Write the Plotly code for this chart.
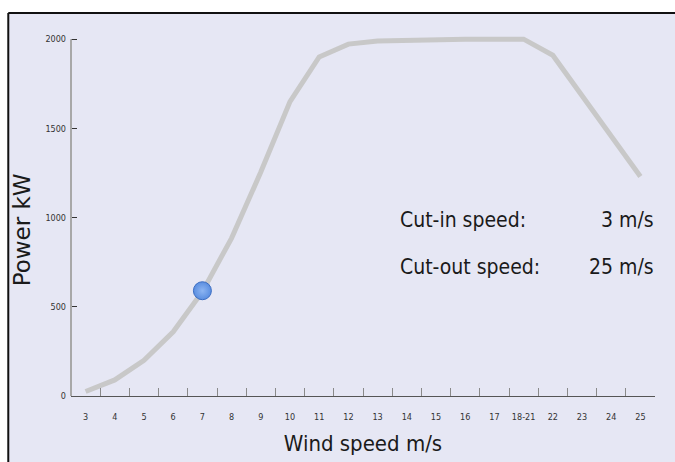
import plotly.graph_objs as go

# wind speed categories (m/s) and turbine output (kW)
speed_labels = ['3', '4', '5', '6', '7', '8', '9', '10', '11', '12', '13', '14',
                '15', '16', '17', '18-21', '22', '23', '24', '25']
power_kw = [25, 90, 200, 360, 585, 885, 1255, 1650, 1900, 1972, 1990, 1995,
            1998, 2000, 2000, 2000, 1910, 1685, 1455, 1230]

# current operating point
current_speed = ['7']
current_power = [590]

y_ticks = [0, 500, 1000, 1500, 2000]

info_labels = ['Cut-in speed:', 'Cut-out speed:']
info_values = ['3 m/s', '25 m/s']

NARROW = 'DejaVu Sans Condensed, Liberation Sans Narrow, sans-serif'

curve = go.Scatter(
    x=speed_labels, y=power_kw, mode='lines',
    line=dict(color='#C8C8C8', width=5),
    hoverinfo='skip',
)
point = go.Scatter(
    x=current_speed, y=current_power, mode='markers',
    marker=dict(size=18, color='#5A8EE0',
                gradient=dict(type='radial', color='#8DB5F2'),
                line=dict(color='#3B6DC2', width=1)),
    cliponaxis=False,
)

annotations = [
    dict(text='Power kW', x=-0.0834, y=0.456, xref='paper', yref='paper',
         textangle=-90, showarrow=False, xanchor='center', yanchor='middle',
         font=dict(family='DejaVu Sans', size=23, color='#1a1a1a')),
]
rows_y = [0.4835, 0.3544]
for lab, val, yy in zip(info_labels, info_values, rows_y):
    annotations.append(dict(text=lab, x=0.5604, y=yy, xref='paper', yref='paper',
                            xanchor='left', yanchor='middle', showarrow=False,
                            font=dict(family=NARROW, size=21, color='#1a1a1a')))
    annotations.append(dict(text=val, x=1.0023, y=yy, xref='paper', yref='paper',
                            xanchor='right', yanchor='middle', showarrow=False,
                            font=dict(family=NARROW, size=21, color='#1a1a1a')))

# frame edges in paper coords (panel runs off the right and bottom)
frame_left, frame_top = -0.1074, 1.0522

layout = go.Layout(
    width=675, height=462,
    margin=dict(l=71, r=20, t=32, b=66, pad=0),
    paper_bgcolor='white',
    plot_bgcolor='rgba(0,0,0,0)',
    showlegend=False,
    xaxis=dict(
        type='category', categoryorder='array', categoryarray=speed_labels,
        range=[-0.5, len(speed_labels) - 0.5],
        automargin=False, tickangle=0,
        tickson='boundaries', ticks='inside', ticklen=8, tickcolor='#8A8A8A',
        showline=True, linecolor='#555555', linewidth=1,
        showgrid=False, zeroline=False,
        tickfont=dict(family=NARROW, size=9, color='#333333'),
        ticklabelstandoff=12,
        title=dict(text='Wind speed m/s', standoff=14,
                   font=dict(family=NARROW, size=22, color='#1a1a1a')),
    ),
    yaxis=dict(
        range=[0, 2040], tickvals=y_ticks, automargin=False,
        ticks='inside', ticklen=6, tickcolor='#333333',
        showline=False, showgrid=False, zeroline=False,
        tickfont=dict(family=NARROW, size=9, color='#333333'),
        ticklabelstandoff=4,
    ),
    shapes=[
        # lavender panel
        dict(type='rect', xref='paper', yref='paper',
             x0=frame_left, x1=1.2, y0=-0.4, y1=frame_top,
             fillcolor='#E6E7F4', line=dict(width=0), layer='below'),
        # black frame, top and left only
        dict(type='line', xref='paper', yref='paper',
             x0=frame_left, x1=1.2, y0=frame_top, y1=frame_top,
             line=dict(color='#111111', width=2), layer='below'),
        dict(type='line', xref='paper', yref='paper',
             x0=frame_left, x1=frame_left, y0=-0.4, y1=frame_top,
             line=dict(color='#111111', width=2), layer='below'),
        # y axis line, only up to 2000
        dict(type='line', xref='paper', yref='y', x0=0, x1=0, y0=0, y1=2000,
             line=dict(color='#A8A8A8', width=2)),
    ],
    annotations=annotations,
)

fig = go.Figure(data=[curve, point], layout=layout)
# drop the default page margin so the figure fills the window exactly
fig.write_html('out.html', config={'displayModeBar': False},
               post_script="document.body.style.margin='0';"
                           "document.body.style.overflow='hidden';")
